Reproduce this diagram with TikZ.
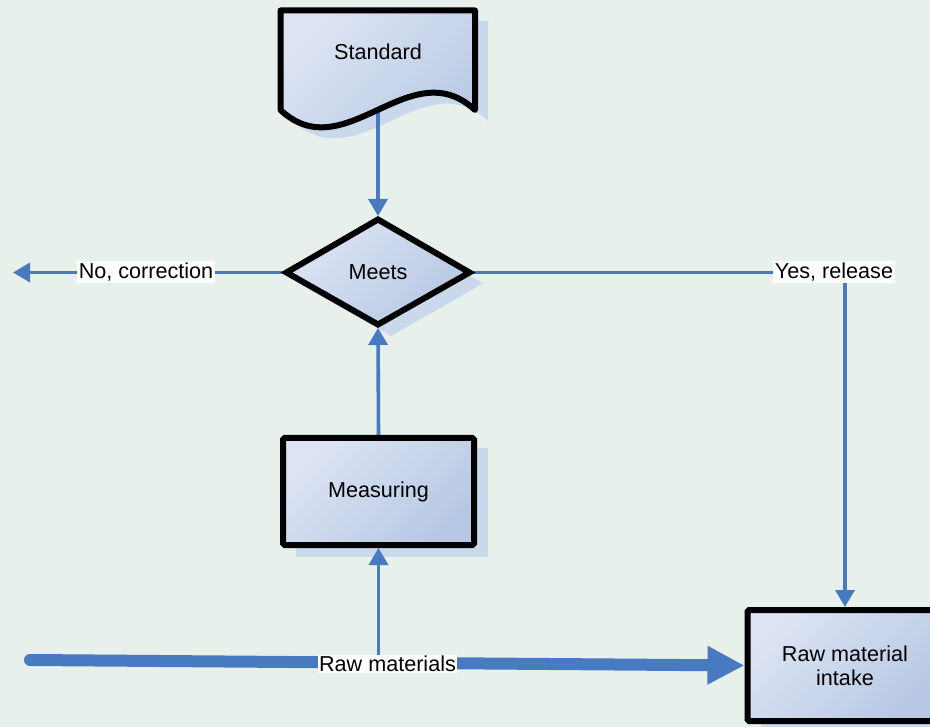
\documentclass[tikz,border=0pt]{standalone}
\usepackage{fontspec}
\setmainfont{Liberation Sans}
\usetikzlibrary{arrows.meta}
\definecolor{bgcol}{RGB}{232,240,235}
\definecolor{linkblue}{RGB}{72,122,193}
\definecolor{gradlight}{RGB}{220,228,243}
\definecolor{graddark}{RGB}{183,200,228}
\definecolor{shadcol}{RGB}{202,216,235}
\pgfdeclarelayer{backlayer}
\pgfdeclarelayer{linklayer}
\pgfdeclarelayer{labellayer}
\pgfsetlayers{backlayer,linklayer,main,labellayer}
\begin{document}
\begin{tikzpicture}[x=1pt,y=-1pt,
  every node/.style={font=\fontsize{21.6}{24}\selectfont, text=black},
  shapefill/.style={draw=black, line width=6pt, top color=gradlight, bottom color=graddark, shading angle=45},
  box/.style={shapefill, rectangle, rounded corners=1.5pt, inner sep=0pt, align=center},
  shadowfill/.style={fill=shadcol, draw=none},
  link/.style={draw=linkblue, line width=3.6pt, -{Triangle[width=19pt,length=17pt]}},
  bigarrow/.style={draw=linkblue, line width=12pt, line cap=round, -{Triangle[width=36pt,length=37pt]}},
  lbl/.style={fill=white, inner sep=1.5pt},
]
\useasboundingbox (0,0) rectangle (930,727);

\begin{pgfonlayer}{backlayer}
\fill[bgcol] (0,0) rectangle (930,727);
\begin{scope}[shift={(13,11)}]
  \fill[shadowfill] (280,10) -- (475,10) -- (475,110) .. controls (410,50) and (345,170) .. (280,110) -- cycle;
  \fill[shadowfill] (378,219) -- (470,272.5) -- (378,325) -- (286,272.5) -- cycle;
  \fill[shadowfill] (282.5,437.5) rectangle (474.5,545.5);
  \fill[shadowfill] (747.5,609.5) rectangle (942.5,721.5);
\end{scope}
\end{pgfonlayer}

% shapes
\draw[shapefill, line join=round] (280.5,10.5) -- (475,10.5) -- (475,110) .. controls (410,50) and (345,170) .. (280.5,110) -- cycle;
\node (std) at (378,52) {Standard};
\draw[shapefill] (378,219.5) -- (469.5,272.5) -- (378,324.5) -- (286.5,272.5) -- cycle;
\node (meets) at (378,272) {Meets};
\node[box, minimum width=191pt, minimum height=107pt] (meas) at (378.5,491.5) {Measuring};
\node[box, minimum width=195pt, minimum height=111pt] (intake) at (845,665.5) {Raw material\\intake};

% named points
\coordinate (stdb) at (378,108);
\coordinate (mt) at (378,216);
\coordinate (mb) at (378,328);
\coordinate (ml) at (282,272.5);
\coordinate (mr) at (474,272.5);
\coordinate (noend) at (13,272.5);
\coordinate (branch) at (378.5,662);
\coordinate (rawstart) at (30,660);

% connectors (behind shapes)
\begin{pgfonlayer}{linklayer}
\draw[link] (stdb) -- (mt);
\draw[link] (meas.north) -- (mb);
\draw[link] (branch) -- (meas.south);
\draw[link] (ml) -- (noend);
\draw[link] (mr) -| (intake.north);
\draw[bigarrow] (rawstart) -- (intake.west);
\end{pgfonlayer}

% labels
\begin{pgfonlayer}{labellayer}
\node[lbl] (no) at (146,272) {No, correction};
\node[lbl] (yes) at (834,272) {Yes, release};
\node[lbl] (raw) at (387.5,664) {Raw materials};
\end{pgfonlayer}
\end{tikzpicture}
\end{document}
